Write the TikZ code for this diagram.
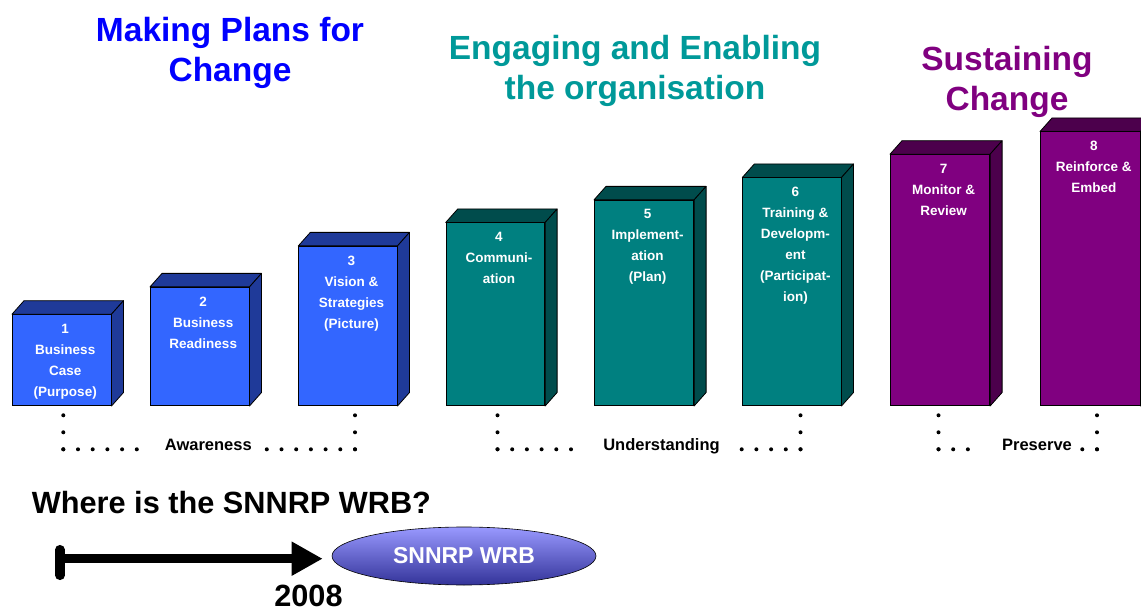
\documentclass[tikz,border=0pt]{standalone}
\usepackage{fontspec}
\setmainfont{Liberation Sans}
\usetikzlibrary{shapes.geometric,arrows.meta,calc}
\definecolor{bfront}{HTML}{3366FF}
\definecolor{bside}{HTML}{1F3A99}
\definecolor{tfront}{HTML}{008080}
\definecolor{tside}{HTML}{004C4C}
\definecolor{pfront}{HTML}{800080}
\definecolor{pside}{HTML}{4C004C}
\definecolor{titleblue}{HTML}{0000FF}
\definecolor{titleteal}{HTML}{009999}
\definecolor{titlepurple}{HTML}{800080}
\definecolor{elltop}{HTML}{9999FF}
\definecolor{ellbot}{HTML}{333399}
\newcommand\mycube[7]{%
  \pgfmathsetmacro\cubeW{#3-#2}%
  \pgfmathsetmacro\cubeH{406-#4}%
  \node[front, fill=#5, minimum width=\cubeW pt, minimum height=\cubeH pt] (#1) at (#2,406) {};
  \filldraw[face, fill=#6] (#1.north west) -- ++(12,-13.5) -- ([shift={(12,-13.5)}]#1.north east) -- (#1.north east) -- cycle;
  \filldraw[face, fill=#6] (#1.north east) -- ++(12,-13.5) -- ([shift={(12,-13.5)}]#1.south east) -- (#1.south east) -- cycle;
  \node[boxtext] (#1t) at ([shift={(3.5,9.5)}]#1.north) {#7};
}
\begin{document}
\begin{tikzpicture}[x=1pt,y=-1pt,
  front/.style={draw=black, line width=0.8pt, rectangle, inner sep=0pt, anchor=south west},
  face/.style={draw=black, line width=0.8pt, line join=round},
  boxtext/.style={text=white, font=\fontsize{13.5}{21}\selectfont\bfseries, align=center, anchor=north, inner sep=0pt},
  title/.style={font=\fontsize{33.5}{40}\selectfont\bfseries, align=center, anchor=north, inner sep=0pt},
  stage/.style={font=\fontsize{16.5}{20}\selectfont\bfseries, anchor=base, inner sep=0pt},
  vdots/.style={line width=4pt, line cap=round, dash pattern=on 0pt off 17pt},
  hdots/.style={line width=4pt, line cap=round, dash pattern=on 0pt off 14.7pt},
  bigtext/.style={font=\fontsize{30.7}{36}\selectfont\bfseries, inner sep=0pt},
]
\clip (0,0) rectangle (1141,612);

% titles
\node[title, text=titleblue] (tmake) at (230,17.5) {Making Plans for\\Change};
\node[title, text=titleteal] (tengage) at (635,35.3) {Engaging and Enabling\\the organisation};
\node[title, text=titlepurple] (tsustain) at (1007,46.5) {Sustaining\\Change};

% boxes
\mycube{b1}{12}{110.7}{315}{bfront}{bside}{1\\Business\\Case\\(Purpose)}
\mycube{b2}{150}{248.7}{287.7}{bfront}{bside}{2\\Business\\Readiness}
\mycube{b3}{298.3}{396.7}{246.7}{bfront}{bside}{3\\Vision \&\\Strategies\\(Picture)}
\mycube{b4}{445.7}{544.3}{223.3}{tfront}{tside}{4\\Communi-\\ation}
\mycube{b5}{594}{693.3}{200.7}{tfront}{tside}{5\\Implement-\\ation\\(Plan)}
\mycube{b6}{742.3}{840.7}{178.3}{tfront}{tside}{6\\Training \&\\Developm-\\ent\\(Participat-\\ion)}
\mycube{b7}{890}{989.3}{155}{pfront}{pside}{7\\Monitor \&\\Review}
\mycube{b8}{1040}{1139.7}{132.3}{pfront}{pside}{8\\Reinforce \&\\Embed}

% stage labels
\node[stage] (aw) at (208.3,450) {Awareness};
\node[stage] (un) at (661.5,450) {Understanding};
\node[stage] (pr) at (1037,450) {Preserve};

% dotted brackets
\coordinate (a1) at (63.3,449.3);
\coordinate (a2) at (355,449.3);
\coordinate (u1) at (497.5,449.3);
\coordinate (u2) at (800.5,449.3);
\coordinate (p1) at (938.5,449.3);
\coordinate (p2) at (1097,449.3);
\foreach \c in {a1,a2,u1,u2,p1,p2}{
  \draw[vdots] (\c) -- ([yshift=35pt]\c);
}
\draw[hdots] (a1) -- ([xshift=74pt]a1);
\draw[hdots] (a2) -- ([xshift=-88.6pt]a2);
\draw[hdots] (u1) -- ([xshift=74pt]u1);
\draw[hdots] (u2) -- ([xshift=-59.2pt]u2);
\draw[hdots] (p1) -- ([xshift=29.8pt]p1);
\draw[hdots] (p2) -- ([xshift=-15pt]p2);

% bottom part
\node[bigtext, anchor=base west] (q) at (31.7,513.3) {Where is the SNNRP WRB?};
\node[ellipse, draw=black, line width=0.6pt, minimum width=264pt, minimum height=58pt,
      top color=elltop, bottom color=ellbot, inner sep=0pt, text=white,
      font=\fontsize{23}{28}\selectfont\bfseries] (wrb) at (464,556) {SNNRP WRB};
\coordinate (bar1) at (60,549.7);
\coordinate (bar2) at (60,575.3);
\coordinate (start) at (60,558.7);
\draw[line width=9.5pt, line cap=round] (bar1) -- (bar2);
\draw[line width=9pt, -{Triangle[length=31pt,width=32pt]}] (start) -- ($(wrb.west |- start)+(-9,0)$);
\node[bigtext, anchor=base] (yr) at (308.5,606.5) {2008};
\end{tikzpicture}
\end{document}
